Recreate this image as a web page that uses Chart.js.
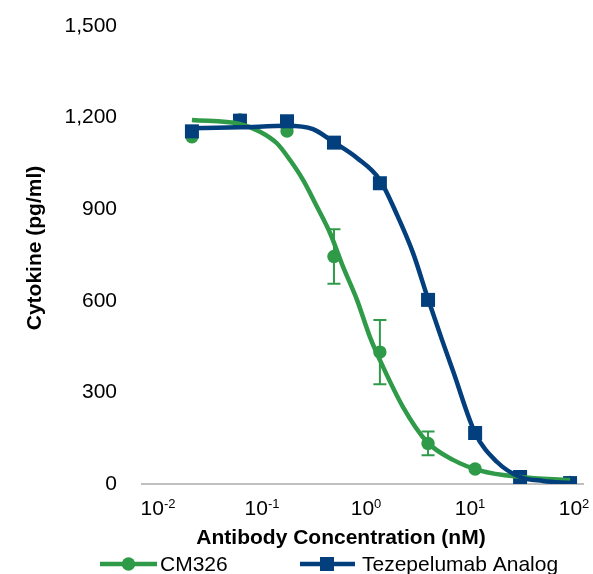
<!DOCTYPE html>
<html><head><meta charset="utf-8">
<script src="https://cdn.jsdelivr.net/npm/chart.js@4/dist/chart.umd.min.js"></script>
<style>html,body{margin:0;padding:0;background:#fff}#wrap{width:593px;height:574px;position:relative}</style>
</head><body><div id="wrap"><canvas id="c"></canvas></div>
<script>
// ---- data ----
const concentrations = [0.0212, 0.0614, 0.174, 0.492, 1.36, 3.95, 11.2, 30.3, 91.6];
const cm326Values = [1137, 1192, 1156, 745, 432, 133, 49, 23, 5];
const cm326Errors = [0, 0, 0, 89, 105, 39, 0, 0, 0];
const tezeValues = [1155, 1190, 1188, 1118, 985, 603, 167, 23, 3];
const cm326FitX = [0.0212, 0.0614, 0.0957, 0.139, 0.186, 0.248, 0.338, 0.451, 0.601, 0.819, 1.09, 1.36, 2.27, 3.86, 6.87, 12.5, 30.3, 91.6];
const cm326FitY = [1192, 1179, 1154, 1116, 1061, 996, 908, 822, 712, 603, 482, 406, 252, 138, 79, 44, 23, 13];
const tezeFitX = [0.019, 0.0614, 0.174, 0.309, 0.482, 0.819, 1.36, 1.99, 2.83, 3.95, 5.38, 6.87, 11.2, 18.2, 30.3, 50.4, 91.6];
const tezeFitY = [1165, 1168, 1173, 1162, 1121, 1068, 996, 881, 757, 606, 472, 370, 167, 72, 23, 10, 3];
const yTicks = [0, 300, 600, 900, 1200, 1500];
const xTickExponents = [-2, -1, 0, 1, 2];
const seriesNames = ['CM326', 'Tezepelumab Analog'];
const xTitle = 'Antibody Concentration (nM)';
const yTitle = 'Cytokine (pg/ml)';

const GREEN = '#2F9A48', BLUE = '#023F7C';
const FONT = "'Liberation Sans', Arial, sans-serif";
Chart.defaults.font.family = FONT;

const pts = (xs, ys) => xs.map((x, i) => ({x: x, y: ys[i]}));

const decor = {
  id: 'decor',
  afterDatasetsDraw(chart) {
    const ctx = chart.ctx, xs = chart.scales.x, ys = chart.scales.y;
    // error bars for CM326
    ctx.save();
    ctx.strokeStyle = GREEN; ctx.lineWidth = 2;
    concentrations.forEach((c, i) => {
      const e = cm326Errors[i];
      if (!e) return;
      const px = xs.getPixelForValue(c);
      const t = ys.getPixelForValue(cm326Values[i] + e), b = ys.getPixelForValue(cm326Values[i] - e);
      ctx.beginPath();
      ctx.moveTo(px, t); ctx.lineTo(px, b);
      ctx.moveTo(px - 6.5, t); ctx.lineTo(px + 6.5, t);
      ctx.moveTo(px - 6.5, b); ctx.lineTo(px + 6.5, b);
      ctx.stroke();
    });
    ctx.restore();
  },
  afterDraw(chart) {
    const ctx = chart.ctx, xs = chart.scales.x;
    ctx.save();
    ctx.fillStyle = '#000';
    ctx.textBaseline = 'alphabetic';
    // x tick labels with superscripts
    xTickExponents.forEach(k => {
      const px = xs.getPixelForValue(Math.pow(10, k));
      ctx.font = '21px ' + FONT;
      const w1 = ctx.measureText('10').width;
      ctx.font = '13px ' + FONT;
      const ex = k < 0 ? '-' + (-k) : String(k);
      const w2 = ctx.measureText(ex).width;
      const start = px - (w1 + w2) / 2;
      ctx.textAlign = 'left';
      ctx.font = '21px ' + FONT;
      ctx.fillText('10', start, 515);
      ctx.font = '13px ' + FONT;
      ctx.fillText(ex, start + w1, 507.5);
    });
    // axis titles
    ctx.font = 'bold 21px ' + FONT;
    ctx.textAlign = 'center';
    ctx.fillText(xTitle, 341, 544);
    ctx.save();
    ctx.translate(40.5, 248);
    ctx.rotate(-Math.PI / 2);
    ctx.fillText(yTitle, 0, 0);
    ctx.restore();
    // legend
    const ly = 564;
    ctx.lineWidth = 4.5;
    ctx.strokeStyle = GREEN; ctx.fillStyle = GREEN;
    ctx.beginPath(); ctx.moveTo(100, ly); ctx.lineTo(157, ly); ctx.stroke();
    ctx.beginPath(); ctx.arc(128.5, ly, 6.7, 0, Math.PI * 2); ctx.fill();
    ctx.strokeStyle = BLUE; ctx.fillStyle = BLUE;
    ctx.beginPath(); ctx.moveTo(300, ly); ctx.lineTo(355, ly); ctx.stroke();
    ctx.fillRect(327 - 7, ly - 7, 14, 14);
    ctx.fillStyle = '#000';
    ctx.font = '21px ' + FONT;
    ctx.textAlign = 'left';
    ctx.fillText(seriesNames[0], 160, 571);
    ctx.fillText(seriesNames[1], 362, 571);
    ctx.restore();
  }
};

new Chart(document.getElementById('c'), {
  type: 'scatter',
  data: {
    datasets: [
      {label: seriesNames[1] + ' fit', data: pts(tezeFitX, tezeFitY), showLine: true, borderColor: BLUE, borderWidth: 4.5, pointRadius: 0, cubicInterpolationMode: 'monotone', fill: false},
      {label: seriesNames[0] + ' fit', data: pts(cm326FitX, cm326FitY), showLine: true, borderColor: GREEN, borderWidth: 4.5, pointRadius: 0, cubicInterpolationMode: 'monotone', fill: false},
      {label: seriesNames[1], data: pts(concentrations, tezeValues), showLine: false, pointStyle: 'rect', pointRadius: 9.9, backgroundColor: BLUE, borderColor: BLUE, borderWidth: 0},
      {label: seriesNames[0], data: pts(concentrations, cm326Values), showLine: false, pointStyle: 'circle', pointRadius: 6.7, backgroundColor: GREEN, borderColor: GREEN, borderWidth: 0}
    ]
  },
  options: {
    responsive: true,
    maintainAspectRatio: false,
    animation: false,
    layout: {padding: {top: 26, right: 10, left: 0, bottom: 0}},
    plugins: {legend: {display: false}, tooltip: {enabled: false}},
    scales: {
      x: {
        type: 'logarithmic',
        min: 0.00702, max: 122,
        afterBuildTicks: s => { s.ticks = xTickExponents.map(k => ({value: Math.pow(10, k)})); },
        afterFit: s => { s.height = 90; s.paddingLeft = 0; s.paddingRight = 0; },
        ticks: {display: false},
        grid: {display: false, drawTicks: false},
        border: {display: true, color: '#BFBFBF', width: 2}
      },
      y: {
        type: 'linear',
        min: 0, max: 1500,
        afterBuildTicks: s => { s.ticks = yTicks.map(v => ({value: v})); },
        afterFit: s => { s.width = 142; s.paddingTop = 0; s.paddingBottom = 0; },
        ticks: {padding: 25, color: '#000', font: {size: 21}, callback: v => v.toLocaleString('en-US')},
        grid: {display: false, drawTicks: false},
        border: {display: false}
      }
    }
  },
  plugins: [decor]
});
</script></body></html>
